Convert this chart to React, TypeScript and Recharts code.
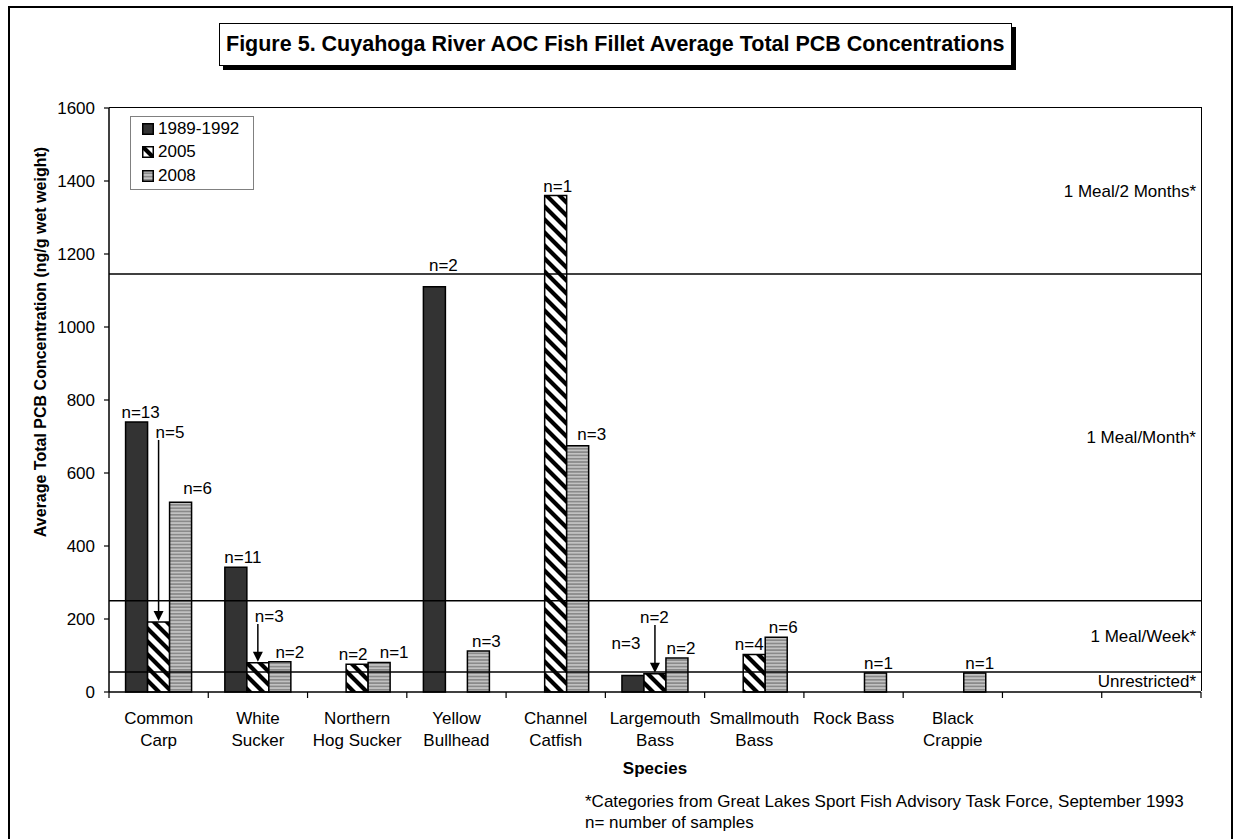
import { BarChart, Bar, XAxis, YAxis, ReferenceLine, LabelList, Legend } from "recharts";

// Species (two blank slots at the end, as in the original sheet)
const categories = [
  "Common\nCarp",
  "White\nSucker",
  "Northern\nHog Sucker",
  "Yellow\nBullhead",
  "Channel\nCatfish",
  "Largemouth\nBass",
  "Smallmouth\nBass",
  "Rock Bass",
  "Black\nCrappie",
  "",
  "",
];

// average total PCB, ng/g wet weight
const pcb1989 = [740, 342, null, 1110, null, 45, null, null, null, null, null];
const pcb2005 = [192, 80, 76, null, 1360, 50, 103, null, null, null, null];
const pcb2008 = [520, 83, 81, 112, 675, 93, 150, 52, 52, null, null];

// number of samples
const n1989 = [13, 11, null, 2, null, 3, null, null, null, null, null];
const n2005 = [5, 3, 2, null, 1, 2, 4, null, null, null, null];
const n2008 = [6, 2, 1, 3, 3, 2, 6, 1, 1, null, null];

// 2005 callouts drawn with an arrow: height (ng/g) where the label sits
const arrow2005 = [696, 192, null, null, null, 189, null, null, null, null, null];

const seriesNames = ["1989-1992", "2005", "2008"];

// advisory category limits and names (bottom to top)
const advisoryLimits = [55, 250, 1145];
const advisoryNames = ["Unrestricted*", "1 Meal/Week*", "1 Meal/Month*", "1 Meal/2 Months*"];

const yTicks = [0, 200, 400, 600, 800, 1000, 1200, 1400, 1600];
const yMax = 1600;

// hand placement of the n= labels (px nudges, as in the original drawing)
const dx1989 = [4, 7, 0, 9, 0, -7, 0, 0, 0, 0, 0];
const lift1989 = [0, 0, 0, 12, 0, 23, 0, 0, 0, 0, 0];
const dx2005 = [0, 0, -4, 0, 2, 0, -5, 0, 0, 0, 0];
const arrowDx2005 = [-3, -3, 0, 0, 0, -15, 0, 0, 0, 0, 0];
const dx2008 = [17, 10, 15, 8, 14, 4, 7, 3, 5, 0, 0];
const lift2008 = [4, 0, 0, 0, 2, 0, 0, 0, 0, 0, 0];

const W = 1239;
const H = 839;
const PLOT_LEFT = 109;
const PLOT_TOP = 108;
const PLOT_RIGHT = 1201;
const PLOT_BOTTOM = 692;
const X_AXIS_H = 60;
const HALF_BAND = (PLOT_RIGHT - PLOT_LEFT) / categories.length / 2;
const FONT = "Arial, 'Liberation Sans', sans-serif";
const fills = ["#333333", "url(#hatch2005)", "url(#stripe2008)"];

const lab = (n: number | null, dx: number, lift: number) => (n == null ? null : [n, dx, lift]);

const rows = categories.map((name, i) => ({
  name,
  s1989: pcb1989[i],
  s2005: pcb2005[i],
  s2008: pcb2008[i],
  l1989: lab(n1989[i], dx1989[i], lift1989[i]),
  l2005: arrow2005[i] == null ? lab(n2005[i], dx2005[i], 0) : null,
  l2008: lab(n2008[i], dx2008[i], lift2008[i]),
  a2005: arrow2005[i] == null ? null : [n2005[i], arrow2005[i], pcb2005[i], arrowDx2005[i]],
}));

const bounds = [0, ...advisoryLimits, yMax];
const advisoryMids = advisoryNames.map((_, i) => (bounds[i] + bounds[i + 1]) / 2);

const getBox = (p: any) => p.viewBox ?? p;

const NLabel = (p: any) => {
  if (p.value == null) return null;
  const vb = getBox(p);
  const [n, dx, lift] = p.value;
  return (
    <text x={vb.x + vb.width / 2 + dx} y={vb.y - 4 - lift} textAnchor="middle" fontSize={17} fontFamily={FONT} fill="#000">
      n={n}
    </text>
  );
};

const ArrowLabel = (p: any) => {
  if (p.value == null) return null;
  const vb = getBox(p);
  const [n, at, v, dx] = p.value;
  const cx = vb.x + vb.width / 2;
  const bottom = vb.y + vb.height;
  const ty = bottom - (at / v) * vb.height;
  const tip = vb.y - 1;
  return (
    <g>
      <text x={cx + dx} y={ty} fontSize={17} fontFamily={FONT} fill="#000">
        n={n}
      </text>
      <line x1={cx} x2={cx} y1={ty + 2} y2={tip - 8} stroke="#000" strokeWidth={1.5} />
      <path d={`M${cx - 5},${tip - 10} L${cx + 5},${tip - 10} L${cx},${tip} Z`} fill="#000" />
    </g>
  );
};

const CatTick = (p: any) => {
  const { x, y, payload, index } = p;
  const lines = String(payload.value).split("\n");
  return (
    <g>
      <line x1={x - HALF_BAND} x2={x - HALF_BAND} y1={y} y2={y + 6} stroke="#000" strokeWidth={1.2} />
      {index === categories.length - 1 && (
        <line x1={x + HALF_BAND} x2={x + HALF_BAND} y1={y} y2={y + 6} stroke="#000" strokeWidth={1.2} />
      )}
      {lines.map((l, i) => (
        <text key={i} x={x} y={y + 26 + i * 22} textAnchor="middle" dominantBaseline="central" fontSize={17} fontFamily={FONT} fill="#000">
          {l}
        </text>
      ))}
    </g>
  );
};

const AdvisoryLabel = (name: string) => (p: any) => {
  const vb = getBox(p);
  return (
    <text x={vb.x + vb.width - 5} y={vb.y} textAnchor="end" dominantBaseline="central" fontSize={17} fontFamily={FONT} fill="#000">
      {name}
    </text>
  );
};

const LegendBox = () => (
  <div style={{ border: "1px solid #808080", background: "#fff", padding: "0 10px 1px 11px", width: 101, fontFamily: FONT }}>
    {seriesNames.map((nm, i) => (
      <div key={nm} style={{ display: "flex", alignItems: "center", height: 23.5, fontSize: 17, color: "#000" }}>
        <svg width={12} height={12} style={{ marginRight: 4 }}>
          <rect x={0.75} y={0.75} width={10.5} height={10.5} fill={fills[i]} stroke="#000" strokeWidth={1.5} />
        </svg>
        {nm}
      </div>
    ))}
  </div>
);

export default function App() {
  return (
    <div style={{ position: "absolute", left: 0, top: 0, width: W, height: H, background: "#fff", overflow: "hidden", fontFamily: FONT }}>
      <svg width={0} height={0} style={{ position: "absolute" }}>
        <defs>
          <pattern id="hatch2005" width={13} height={13} patternUnits="userSpaceOnUse">
            <rect width={13} height={13} fill="#fff" />
            <path d="M-3,-3 L16,16 M10,-3 L16,3 M-3,10 L3,16" stroke="#000" strokeWidth={4.2} />
          </pattern>
          <pattern id="stripe2008" width={6} height={3.3} patternUnits="userSpaceOnUse">
            <rect width={6} height={3.3} fill="#8a8a8a" />
            <rect y={1.1} width={6} height={1.1} fill="#dedede" />
          </pattern>
        </defs>
      </svg>

      {/* outer frame */}
      <div style={{ position: "absolute", left: 8, top: 6, width: 1225, height: 900, border: "2px solid #000", boxSizing: "border-box" }} />

      {/* title */}
      <div
        style={{
          position: "absolute",
          left: 219,
          top: 23,
          height: 43,
          boxSizing: "border-box",
          border: "1.5px solid #000",
          boxShadow: "4px 4px 0 #000",
          background: "#fff",
          padding: "0 6px",
          lineHeight: "40px",
          fontSize: 21.5,
          fontWeight: "bold",
          whiteSpace: "nowrap",
        }}
      >
        Figure 5. Cuyahoga River AOC Fish Fillet Average Total PCB Concentrations
      </div>

      <div style={{ position: "absolute", left: 0, top: 0 }}>
        <BarChart
          width={W}
          height={H}
          data={rows}
          margin={{ top: PLOT_TOP, right: W - PLOT_RIGHT, bottom: H - PLOT_BOTTOM - X_AXIS_H, left: 0 }}
          barGap={0}
          barCategoryGap="16.7%"
        >
          <XAxis
            dataKey="name"
            interval={0}
            height={X_AXIS_H}
            tickLine={false}
            tickSize={0}
            tickMargin={0}
            axisLine={{ stroke: "#000", strokeWidth: 1.5 }}
            tick={CatTick}
            label={(p: any) => {
              const vb = p.viewBox ?? { x: PLOT_LEFT, y: PLOT_BOTTOM, width: PLOT_RIGHT - PLOT_LEFT };
              return (
                <text x={vb.x + vb.width / 2} y={vb.y + 76} textAnchor="middle" dominantBaseline="central" fontSize={17} fontWeight="bold" fontFamily={FONT} fill="#000">
                  Species
                </text>
              );
            }}
          />
          <YAxis
            width={PLOT_LEFT}
            domain={[0, yMax]}
            ticks={yTicks}
            interval={0}
            tickSize={5}
            tickMargin={9}
            tick={{ fontSize: 17, fill: "#000", fontFamily: FONT }}
            axisLine={{ stroke: "#000", strokeWidth: 1.5 }}
            tickLine={{ stroke: "#000", strokeWidth: 1.2 }}
            label={(p: any) => {
              const vb = p.viewBox ?? { y: PLOT_TOP, height: PLOT_BOTTOM - PLOT_TOP };
              const cy = vb.y + vb.height / 2 - 58;
              return (
                <text x={40} y={cy} transform={`rotate(-90 40 ${cy})`} textAnchor="middle" dominantBaseline="central" fontSize={16} fontWeight="bold" fontFamily={FONT} fill="#000">
                  Average Total PCB Concentration (ng/g wet weight)
                </text>
              );
            }}
          />
          <Legend
            layout="horizontal"
            verticalAlign="middle"
            align="center"
            content={LegendBox}
            wrapperStyle={{ position: "absolute", left: 130, top: 116, width: "auto", height: "auto" }}
          />
          <Bar dataKey="s1989" name={seriesNames[0]} fill={fills[0]} stroke="#000" strokeWidth={1.5} isAnimationActive={false}>
            <LabelList dataKey="l1989" content={NLabel} />
          </Bar>
          <Bar dataKey="s2005" name={seriesNames[1]} fill={fills[1]} stroke="#000" strokeWidth={1.5} isAnimationActive={false}>
            <LabelList dataKey="l2005" content={NLabel} />
            <LabelList dataKey="a2005" content={ArrowLabel} />
          </Bar>
          <Bar dataKey="s2008" name={seriesNames[2]} fill={fills[2]} stroke="#000" strokeWidth={1.5} isAnimationActive={false}>
            <LabelList dataKey="l2008" content={NLabel} />
          </Bar>
          {advisoryLimits.map((v) => (
            <ReferenceLine key={v} y={v} stroke="#000" strokeWidth={1.5} />
          ))}
          {advisoryNames.map((nm, i) => (
            <ReferenceLine key={nm} y={advisoryMids[i]} stroke="none" label={AdvisoryLabel(nm)} />
          ))}
        </BarChart>
      </div>

      {/* plot area border (top and right) */}
      <div
        style={{
          position: "absolute",
          left: PLOT_LEFT,
          top: PLOT_TOP - 1,
          width: PLOT_RIGHT - PLOT_LEFT + 1,
          height: PLOT_BOTTOM - PLOT_TOP,
          borderTop: "1.5px solid #000",
          borderRight: "1.5px solid #000",
          boxSizing: "border-box",
          pointerEvents: "none",
        }}
      />

      {/* footnotes */}
      <div style={{ position: "absolute", left: 585, top: 791, fontSize: 17, lineHeight: "21px", color: "#000", whiteSpace: "nowrap" }}>
        <div>*Categories from Great Lakes Sport Fish Advisory Task Force, September 1993</div>
        <div>n= number of samples</div>
      </div>
    </div>
  );
}
